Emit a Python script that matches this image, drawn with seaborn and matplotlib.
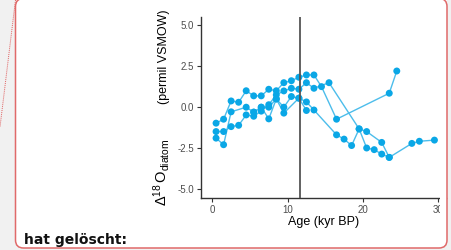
import numpy as np
import pandas as pd
import matplotlib
matplotlib.use("Agg")
import matplotlib.pyplot as plt
from matplotlib.patches import FancyBboxPatch, Rectangle
import seaborn as sns

# data (age in kyr BP, delta 18O diatom)
age_a = [0.5, 1.5, 2.5, 3.5, 4.5, 5.5, 6.5, 7.5, 8.5, 9.5, 10.5, 11.5, 12.5, 13.5, 14.5, 16.5, 23.5, 24.5]
d18o_a = [-0.97, -0.73, 0.38, 0.30, 1.0, 0.69, 0.69, 1.09, 1.0, 1.49, 1.61, 1.82, 1.96, 1.96, 1.25, -0.73, 0.85, 2.2]

age_b = [0.5, 1.5, 2.5, 3.5, 4.5, 5.5, 6.5, 7.5, 8.5, 9.5, 10.5, 11.5, 12.5, 13.5, 15.5, 19.5, 20.5, 22.5, 23.5, 26.5, 27.5, 29.5]
d18o_b = [-1.48, -1.48, -1.18, -1.1, -0.47, -0.55, -0.24, 0.15, 0.75, 0.99, 1.15, 1.09, 1.49, 1.15, 1.49, -1.32, -1.48, -2.14, -3.05, -2.2, -2.07, -2.0]

age_c = [0.5, 1.5, 2.5, 4.5, 5.5, 6.5, 7.5, 8.5, 9.5, 10.5, 11.5, 12.5, 13.5, 16.5, 17.5, 18.5, 19.5, 20.5, 21.5, 22.5, 23.5]
d18o_c = [-1.88, -2.28, -0.28, 0.0, -0.3, 0.0, 0.0, 0.5, 0.0, 0.65, 0.55, 0.32, -0.17, -1.68, -1.94, -2.33, -1.32, -2.48, -2.58, -2.85, -3.05]

age_d = [5.5, 6.5, 7.5, 8.5, 9.5, 11.5, 12.5]
d18o_d = [-0.3, 0.0, -0.71, 0.5, -0.36, 0.55, -0.2]

younger_dryas = 11.7

frames = []
for name, a, d in [("a", age_a, d18o_a), ("b", age_b, d18o_b),
                   ("c", age_c, d18o_c), ("d", age_d, d18o_d)]:
    frames.append(pd.DataFrame({"age": a, "d18o": d, "core": name}))
df = pd.concat(frames, ignore_index=True)

sns.set_theme(style="white")
plt.rcParams["font.family"] = ["Liberation Sans", "DejaVu Sans"]
plt.rcParams["mathtext.fontset"] = "custom"
plt.rcParams["mathtext.rm"] = "Liberation Sans"
plt.rcParams["mathtext.it"] = "Liberation Sans"

W, H = 452, 250
fig = plt.figure(figsize=(W / 100, H / 100), dpi=100, facecolor="#f1f1f1")

# background: white rounded box of the screenshot
bg = fig.add_axes([0, 0, 1, 1], zorder=0)
bg.set_xlim(0, W)
bg.set_ylim(H, 0)
bg.axis("off")
box = dict(boxstyle="round,pad=0,rounding_size=8")
bg.add_patch(FancyBboxPatch((15.5, -1.5), 431.5, 249.5, facecolor="white", edgecolor="none", **box))
bg.plot([15.5, 0], [0, 127], ls=(0, (1, 1)), color="#e06060", lw=0.7)
bg.text(24, 244, "hat gelöscht:", fontsize=10, fontweight="bold",
        family="DejaVu Sans", color="#111111")

# main chart
x0, x1 = -1.5, 31.0
px_per = 7.53
left_px = 201
right_px = left_px + (x1 - x0) * px_per
ax = fig.add_axes([left_px / W, 52.3 / H, (right_px - left_px) / W, (197.7 - 16.7) / H], zorder=1)
ax.set_facecolor("none")

blue = "#0aa7e6"
sns.lineplot(data=df, x="age", y="d18o", units="core", estimator=None, sort=False,
             color="#4cbdeb", lw=1.0, ax=ax, legend=False)
sns.scatterplot(data=df, x="age", y="d18o", color=blue, s=25, edgecolor="none", ax=ax,
                legend=False, zorder=3)
ax.axvline(younger_dryas, color="#555555", lw=1.3, zorder=4)

ax.set_xlim(x0, x1)
ax.set_ylim(-5.5, 5.5)
ax.set_xticks([0, 10, 20, 30])
ax.set_yticks([-5, -2.5, 0, 2.5, 5])
ax.set_yticklabels(["-5.0", "-2.5", "0.0", "2.5", "5.0"])
for side in ["top", "right"]:
    ax.spines[side].set_visible(False)
for side in ["left", "bottom"]:
    ax.spines[side].set_color("#333333")
    ax.spines[side].set_linewidth(1.0)
ax.tick_params(axis="both", direction="out", length=3, width=0.8, color="#333333",
               labelsize=7, labelcolor="#4d4d4d", pad=2, left=True, bottom=True)
ax.set_xlabel("Age (kyr BP)", fontsize=9, color="black", labelpad=1)
ax.set_ylabel("")

# y label in two parts: the isotope symbol is set a bit larger than the units
fig.text(162 / W, 1 - 206 / H, r"$\Delta^{18}\,\mathrm{O}_{\mathrm{diatom}}$", rotation=90,
         fontsize=10.5, ha="center", va="bottom", color="black")
fig.text(164 / W, 1 - 10 / H, "(permil VSMOW)", rotation=90,
         fontsize=9, ha="center", va="top", color="black")

# overlay: crop the chart at the box edge and draw the red border
ov = fig.add_axes([0, 0, 1, 1], zorder=2)
ov.set_xlim(0, W)
ov.set_ylim(H, 0)
ov.axis("off")
ov.patch.set_alpha(0)
ov.add_patch(Rectangle((440, 0), 7, 240, facecolor="white", edgecolor="none"))
ov.add_patch(FancyBboxPatch((15.5, -1.5), 431.5, 249.5, facecolor="none",
                            edgecolor="#e06a6a", lw=1.1, **box))

fig.savefig("out.png", dpi=100, facecolor=fig.get_facecolor())
